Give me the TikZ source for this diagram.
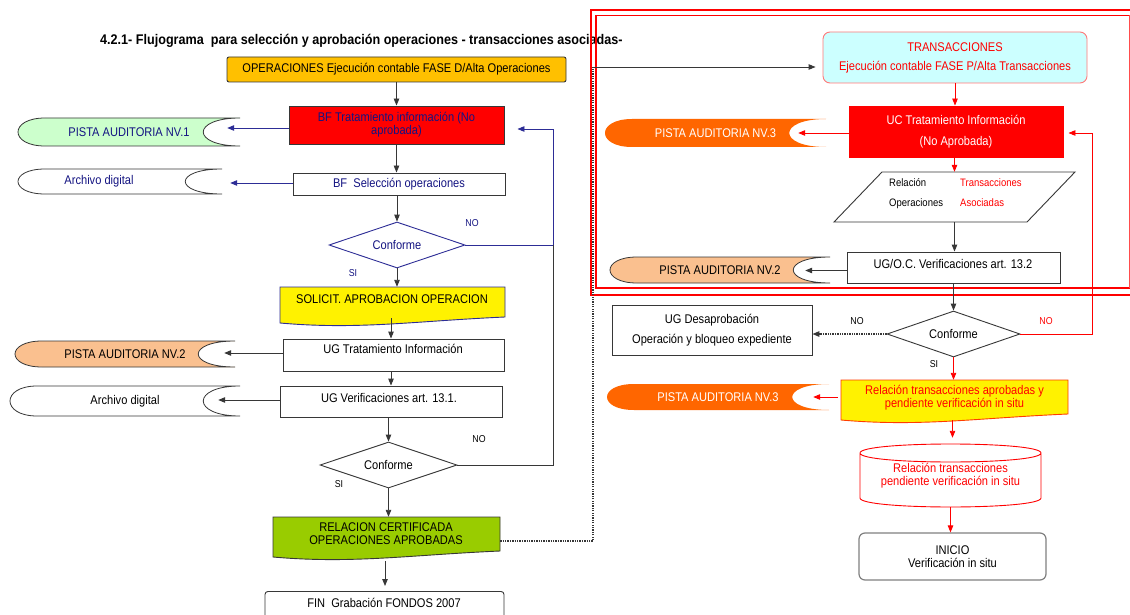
\documentclass[tikz,border=0pt]{standalone}
\usepackage{fontspec}
\setmainfont{Liberation Sans}[FakeStretch=0.88]
\newfontfamily\titlefont{Liberation Sans}[FakeStretch=0.9]
\usetikzlibrary{arrows.meta,shapes.geometric,calc}
\definecolor{navy}{RGB}{20,20,130}
\definecolor{navyline}{RGB}{45,45,150}
\definecolor{gold}{RGB}{255,192,0}
\definecolor{lgreen}{RGB}{204,255,204}
\definecolor{peach}{RGB}{250,192,143}
\definecolor{lime}{RGB}{153,204,0}
\definecolor{lcyan}{RGB}{204,255,255}
\definecolor{orng}{RGB}{255,102,0}
\definecolor{salmon}{RGB}{255,120,120}
\definecolor{dgrey}{RGB}{55,55,55}
\newcommand\pistashape[5]{%
  \path[#5] ({#1+27},{#3}) -- ({#2},{#3}) .. controls ({#2-49},{#3}) and ({#2-49},{#4}) .. ({#2},{#4})
    -- ({#1+27},{#4}) .. controls ({#1-9},{#4}) and ({#1-9},{#3}) .. ({#1+27},{#3}) -- cycle;}
\newcommand\docshape[5]{%
  \path[#5] ({#1},{#3}) -- ({#2},{#3}) -- ({#2},{#4-6})
    .. controls ({#1+0.6*(#2-#1)},{#4-2}) and ({#1+0.35*(#2-#1)},{#4+7}) .. ({#1},{#4}) -- cycle;}
\begin{document}
\begin{tikzpicture}[x=1pt,y=-1pt,
  every node/.style={font=\fontsize{12.6}{13}\selectfont, inner sep=0pt, align=center},
  box/.style={draw=dgrey, line width=0.9pt},
  arr/.style={-{Triangle[length=7pt,width=5.5pt]}, line width=0.9pt},
  lbl/.style={font=\fontsize{10}{12}\selectfont},
  conf/.style={diamond, aspect=3, line width=0.9pt},
  dots/.style={line width=1.3pt, dash pattern=on 1.3pt off 1.1pt}
]
\clip (0,0) rectangle (1130,615);
\fill[white] (0,0) rectangle (1130,615);

% title
\node[anchor=base west, font=\titlefont\bfseries\fontsize{14}{16}\selectfont] (title) at (100,45)
  {4.2.1- Flujograma\ \ para selección y aprobación operaciones - transacciones asociadas-};

% red double frame
\draw[red, line width=2pt] (1140,10) -- (591,10) -- (591,295) -- (1140,295);
\draw[red, line width=1.8pt] (1140,15.5) -- (596,15.5) -- (596,288) -- (1140,288);
\draw[red!70, line width=0.8pt] (1129,15.5) -- (1129,288);

% ---------------- left column
\node[box, fill=gold, rounded corners=2pt, minimum width=339, minimum height=25] (ops) at (396.5,69.5)
  {OPERACIONES Ejecución contable FASE D/Alta Operaciones};
\node[box, fill=red, minimum width=215, minimum height=38, text=navy] (bf) at (396.5,125)
  {BF Tratamiento información (No\\aprobada)};
\pistashape{18}{240}{118}{146}{draw=dgrey, fill=lgreen, line width=0.8pt}
\node[minimum width=222, minimum height=28, text=navy] (pa1) at (129,132) {PISTA AUDITORIA NV.1};
\pistashape{18}{222}{169}{194}{draw=dgrey, fill=white, line width=0.8pt}
\node[minimum width=204, minimum height=25, text=navy] (ad1) at (120,181.5) {\makebox[0pt]{\hspace*{-42pt}Archivo digital}};
\node[box, minimum width=212, minimum height=22, text=navy] (sel) at (399,184) {BF\ \ Selección operaciones};
\node[conf, draw=navyline, minimum width=136, minimum height=46, text=navy] (d1) at (397,245) {Conforme};
\docshape{280}{505}{287}{323}{draw=navyline, fill=yellow, line width=0.9pt}
\node[minimum width=225, minimum height=36] (sol) at (392.5,305) {};
\node (solt) at (392,299) {SOLICIT. APROBACION OPERACION};
\node[box, minimum width=221, minimum height=32] (ugt) at (393.5,355) {};
\node (ugtt) at (393,349) {UG Tratamiento Información};
\pistashape{15}{235}{341}{367}{draw=dgrey, fill=peach, line width=0.8pt}
\node[minimum width=220, minimum height=26] (pa2) at (125,354) {PISTA AUDITORIA NV.2};
\node[box, minimum width=222, minimum height=31] (ugv) at (391,401.5) {};
\node (ugvt) at (389,397.5) {UG Verificaciones art. 13.1.};
\pistashape{10}{240}{386}{416}{draw=dgrey, fill=white, line width=0.8pt}
\node[minimum width=230, minimum height=30] (ad2) at (125,401) {Archivo digital};
\node[conf, draw=dgrey, minimum width=137, minimum height=46] (d2) at (388.5,465) {Conforme};
\docshape{273}{500}{517}{557}{draw=dgrey, fill=lime, line width=0.9pt}
\node[minimum width=227, minimum height=40] (rel) at (386.5,537) {};
\node (relt) at (386,533.5) {RELACION CERTIFICADA\\OPERACIONES APROBADAS};
\node[box, rounded corners=3pt, minimum width=239, minimum height=40, anchor=north] (fin) at (384.5,591) {};
\node (fint) at (384,603) {FIN\ \ Grabación FONDOS 2007};

% left connectors
\draw[arr, dgrey] (ops.south) -- (ops.south|-bf.north);
\draw[arr, navyline] ($(bf.west)+(0,3)$) -- ($(pa1.east|-bf.west)+(-13,3)$);
\draw[arr, dgrey] (bf.south) -- (bf.south|-sel.north);
\draw[arr, navyline] ($(sel.west)+(0,-1)$) -- ($(ad1.east|-sel.west)+(8,-1)$);
\draw[arr, dgrey] (sel.south-|d1.north) -- (d1.north);
\coordinate (nb1) at (553,245);
\coordinate (nt1) at (553,129);
\coordinate (nb2) at (553,465);
\draw[arr, navyline] (d1.east) -- (nb1) -- (nt1) -- ($(bf.east|-nt1)+(13,0)$);
\draw[dgrey, line width=0.9pt] (d2.east) -- (nb2) -- (nb1);
\draw[arr, dgrey] (d1.south) -- (d1.south|-sol.north);
\draw[arr, dgrey] ($(sol.south)+(-1.5,-5)$) -- ($(sol.south|-ugt.north)+(-1.5,0)$);
\draw[arr, dgrey] ($(ugt.west)+(0,-2)$) -- ($(pa2.east|-ugt.west)+(-11,-2)$);
\draw[arr, dgrey] (ugt.south-|ugv.north) -- (ugv.north);
\draw[arr, dgrey] ($(ugv.west)+(0,-1.5)$) -- ($(ad2.east|-ugv.west)+(-22,-1.5)$);
\draw[arr, dgrey] (ugv.south-|d2.north) -- (d2.north);
\draw[arr, dgrey] (d2.south) -- (d2.south|-rel.north);
\draw[arr, dgrey] ($(rel.south)+(-1.5,4)$) -- ($(rel.south|-fin.north)+(-1.5,-5)$);
\coordinate (db) at (593,541);
\coordinate (dt) at (593,67);
\draw[dots, dgrey] (rel.east|-db) -- (db) -- (dt);

% ---------------- right column
\node[box, draw=salmon, fill=lcyan, rounded corners=7pt, minimum width=264, minimum height=51, text=red] (trans) at (955,57.5)
  {TRANSACCIONES\\[6pt]Ejecución contable FASE P/Alta Transacciones};
\draw[arr, dgrey] (dt) -- ($(trans.west|-dt)+(-7,0)$);
\node[box, draw=red, fill=red, minimum width=214, minimum height=51, text=white] (uc) at (956,131.5)
  {UC Tratamiento Información\\[8pt](No Aprobada)};
\pistashape{605}{826}{119}{147}{fill=orng}
\node[minimum width=221, minimum height=28, text=white] (pa3) at (715.5,133) {PISTA AUDITORIA NV.3};
\path[draw=dgrey, line width=0.9pt, fill=white] (834,222) -- (882,172) -- (1075,172) -- (1027,222) -- cycle;
\node[minimum width=241, minimum height=50] (para) at (954.5,197) {};
\node[anchor=west, font=\fontsize{10.8}{13}\selectfont, align=left] (parat) at (889,193.5)
  {\begin{tabular}{@{}p{71pt}@{}l@{}}Relación & \textcolor{red}{Transacciones}\\[7pt]Operaciones & \textcolor{red}{Asociadas}\end{tabular}};
\node[box, minimum width=213, minimum height=31] (ugoc) at (953.5,267.5) {};
\node (ugoct) at (953,263.5) {UG/O.C. Verificaciones art. 13.2};
\pistashape{610}{830}{257}{283}{draw=dgrey, fill=peach, line width=0.8pt}
\node[minimum width=220, minimum height=26] (pb2) at (720,270) {PISTA AUDITORIA NV.2};
\node[conf, draw=dgrey, minimum width=133, minimum height=46] (d3) at (953.5,334) {Conforme};
\node[box, minimum width=200, minimum height=50] (ugd) at (712,330) {UG Desaprobación\\[7pt]Operación y bloqueo expediente};
\docshape{841}{1068}{380}{420}{draw=orng!60!red, fill=yellow, line width=0.9pt}
\node[minimum width=227, minimum height=40] (ydoc) at (954.5,400) {};
\node[text=red] (ydoct) at (954.5,397.5) {Relación transacciones aprobadas y\\pendiente verificación in situ};
\pistashape{607}{829}{384}{410}{fill=orng}
\node[minimum width=222, minimum height=26, text=white] (pb3) at (718,397) {PISTA AUDITORIA NV.3};
\draw[red, line width=0.9pt, fill=white] (860,453) -- (860,498) .. controls (860,510) and (1041,510) .. (1041,498)
  -- (1041,453) .. controls (1041,441) and (860,441) .. (860,453) .. controls (860,465) and (1041,465) .. (1041,453);
\node[minimum width=181, minimum height=63, text=red] (cyl) at (950.5,475.5) {Relación transacciones\\pendiente verificación in situ};
\node[box, draw=gray, line width=1.2pt, rounded corners=6pt, minimum width=187, minimum height=47] (ini) at (952.5,556.5)
  {INICIO\\Verificación in situ};

% right connectors
\draw[arr, red] (trans.south) -- (trans.south|-uc.north);
\draw[arr, red] ($(uc.west)+(0,1.5)$) -- ($(pa3.east|-uc.west)+(-28,1.5)$);
\coordinate (rb) at (1092,334);
\coordinate (rt) at (1092,133);
\draw[arr, red] (d3.east) -- (rb) -- (rt) -- ($(uc.east|-rt)+(5,0)$);
\draw[arr, red] (uc.south-|para.north) -- (para.north);
\draw[arr, dgrey] (para.south) -- (para.south|-ugoc.north);
\draw[arr, dgrey] ($(ugoc.west)+(0,3)$) -- ($(pb2.east|-ugoc.west)+(-25,3)$);
\draw[arr, dgrey] (ugoc.south) -- (ugoc.south|-d3.north);
\draw[arr, dots, dgrey] (d3.west) -- (d3.west-|ugd.east);
\draw[arr, red] (d3.south) -- (d3.south|-ydoc.north);
\draw[arr, red] ($(ydoc.west)+(-3,-3)$) -- ($(pb3.east|-ydoc.west)+(-16,-3)$);
\draw[arr, red, shorten >=6pt] ($(ydoc.south)+(-2,0)$) -- ($(ydoc.south|-cyl.north)+(-2,0)$);
\draw[arr, red] (cyl.south) -- (cyl.south|-ini.north);

% labels
\node[lbl, text=navy] (no1) at (472,223) {NO};
\node[lbl, text=navy] (si1) at (353,273) {SI};
\node[lbl] (no2) at (479,439) {NO};
\node[lbl] (si2) at (339,484) {SI};
\node[lbl] (no3) at (857,321) {NO};
\node[lbl, text=red] (no4) at (1046,321) {NO};
\node[lbl] (si3) at (934,364) {SI};
\end{tikzpicture}
\end{document}
